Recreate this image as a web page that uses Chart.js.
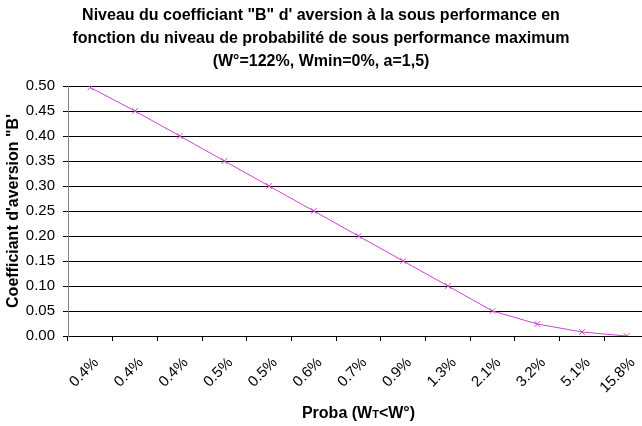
<!DOCTYPE html>
<html>
<head>
<meta charset="utf-8">
<script src="https://cdn.jsdelivr.net/npm/chart.js@4"></script>
<style>
  html, body { margin: 0; padding: 0; background: #fff; overflow: hidden; }
  #wrap { position: relative; width: 656px; height: 426px; }
</style>
</head>
<body>
<div id="wrap"><canvas id="chart"></canvas></div>
<script>
const categories = ["0.4%", "0.4%", "0.4%", "0.5%", "0.5%", "0.6%", "0.7%", "0.9%", "1.3%", "2.1%", "3.2%", "5.1%", "15.8%"];
const coefB = [0.497, 0.45, 0.40, 0.35, 0.30, 0.25, 0.20, 0.15, 0.10, 0.05, 0.024, 0.008, 0.0];
const titleLines = [
    "Niveau du coefficiant \"B\" d' aversion à la sous performance en",
    "fonction du niveau de probabilité de sous performance maximum",
    "(W°=122%, Wmin=0%, a=1,5)"
];
const yTitle = "Coefficiant d'aversion \"B'";

const FONT = "'Liberation Sans', Arial, sans-serif";

// titles drawn by hand, the chart is wider than the window (cut on the right)
const textPlugin = {
    id: 'texts',
    afterDraw(chart) {
        const ctx = chart.ctx;
        const area = chart.chartArea;
        ctx.save();
        ctx.fillStyle = '#000';
        ctx.textAlign = 'center';
        ctx.textBaseline = 'alphabetic';
        ctx.font = 'bold 16px ' + FONT;
        titleLines.forEach((line, i) => ctx.fillText(line, 321, 20 + i * 23));

        // x axis title with small T
        ctx.font = 'bold 16px ' + FONT;
        const p1 = "Proba (W", p2 = "T", p3 = "<W°)";
        const w1 = ctx.measureText(p1).width;
        const w3 = ctx.measureText(p3).width;
        ctx.font = 'bold 11px ' + FONT;
        const w2 = ctx.measureText(p2).width;
        let x = (area.left + area.right) / 2 - (w1 + w2 + w3) / 2;
        ctx.textAlign = 'left';
        ctx.font = 'bold 16px ' + FONT;
        ctx.fillText(p1, x, 418);
        ctx.font = 'bold 11px ' + FONT;
        ctx.fillText(p2, x + w1, 418);
        ctx.font = 'bold 16px ' + FONT;
        ctx.fillText(p3, x + w1 + w2, 418);

        // y axis title
        ctx.translate(18, (area.top + area.bottom) / 2);
        ctx.rotate(-Math.PI / 2);
        ctx.textAlign = 'center';
        ctx.font = 'bold 16px ' + FONT;
        ctx.fillText(yTitle, 0, 0);
        ctx.restore();
    }
};

new Chart(document.getElementById('chart'), {
    type: 'line',
    data: {
        labels: categories,
        datasets: [{
            data: coefB,
            borderColor: '#cc44cc',
            backgroundColor: '#cc44cc',
            borderWidth: 1,
            pointStyle: 'crossRot',
            pointRadius: 4,
            pointBorderWidth: 1,
            tension: 0,
            fill: false
        }]
    },
    options: {
        responsive: true,
        maintainAspectRatio: false,
        animation: false,
        layout: { padding: { top: 86, right: 7, left: 0, bottom: 0 } },
        plugins: {
            legend: { display: false },
            title: { display: false },
            tooltip: { enabled: false }
        },
        scales: {
            x: {
                offset: true,
                grid: {
                    offset: true,
                    drawOnChartArea: false,
                    color: '#000',
                    tickLength: 5
                },
                border: { color: '#000' },
                ticks: {
                    color: '#000',
                    font: { family: FONT, size: 15 },
                    maxRotation: 45,
                    minRotation: 45,
                    autoSkip: false,
                    padding: 13,
                    labelOffset: 6
                },
                afterFit(scale) { scale.height = 90; }
            },
            y: {
                min: 0,
                max: 0.5,
                grid: {
                    color: '#000',
                    tickColor: '#000',
                    tickLength: 5
                },
                border: { color: '#808080' },
                ticks: {
                    stepSize: 0.05,
                    color: '#000',
                    padding: 8,
                    font: { family: FONT, size: 15 },
                    callback: v => v.toFixed(2)
                },
                afterFit(scale) { scale.width = 68; }
            }
        }
    },
    plugins: [textPlugin]
});
</script>
</body>
</html>
